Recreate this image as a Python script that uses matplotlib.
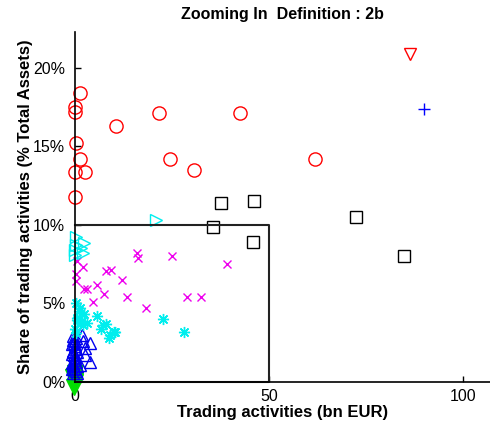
import matplotlib.pyplot as plt

plt.rcParams['font.family'] = ['Liberation Sans', 'DejaVu Sans']

# trading activities (bn EUR) and share of total assets (%) per group
red_circ_x = [1.4, 0, 0, 21.6, 42.6, 10.5, 0.3, 1.4, 24.6, 30.8, 0, 2.6, 0, 61.8]
red_circ_y = [18.4, 17.5, 17.2, 17.1, 17.1, 16.3, 15.2, 14.2, 14.2, 13.5, 13.4, 13.4, 11.8, 14.2]

red_tri_x = [86.3]
red_tri_y = [20.9]

blue_plus_x = [90.0]
blue_plus_y = [17.4]

black_sq_x = [37.7, 46.2, 35.7, 45.8, 72.5, 84.9]
black_sq_y = [11.4, 11.5, 9.85, 8.9, 10.5, 8.0]

cyan_tri_x = [20.8, 0.2, 2.3, 1.5, 0.1, 0.1, 2.0, 0.3]
cyan_tri_y = [10.3, 9.2, 8.85, 8.5, 8.4, 8.1, 8.2, 8.7]

mag_x_x = [16.1, 16.3, 25.0, 39.1, 7.9, 9.2, 12.2, 5.6, 7.5, 13.5, 2.4, 3.2,
           4.7, 18.2, 28.9, 32.6, 2.0, 0.2, 0.2, 0.6]
mag_x_y = [8.2, 7.9, 8.0, 7.5, 7.07, 7.13, 6.5, 6.2, 5.6, 5.4, 5.9, 5.9,
           5.1, 4.7, 5.4, 5.4, 7.3, 6.9, 6.4, 7.7]

cyan_ast_x = [22.7, 28.0, 5.6, 7.9, 6.7, 10.1, 8.8, 0.2, 1.3, 2.3, 0.4, 3.1,
              0.1, 1.3, 2.1, 7.1, 9.1, 10.4, 1.0, 0.5, 1.8, 0.3]
cyan_ast_y = [4.0, 3.2, 4.2, 3.7, 3.4, 3.2, 2.8, 5.0, 4.7, 4.3, 3.95, 3.75,
              3.4, 3.75, 3.6, 3.6, 3.0, 3.2, 4.5, 4.1, 3.9, 3.1]

blue_tri_x = [1.7, 2.1, 3.8, 2.6, 3.8, 2.6, 1.3, -0.6, -0.4, -0.2, 0.0, 0.2,
              -0.5, -0.3, 0.1, 0.3, -0.6, -0.2, 0.2, 0.4, -0.4, 0.0, -0.5,
              0.3, -0.1, 0.5, -0.6, 0.0, 0.6, -0.3, -0.8, -0.7, -0.8, -0.7]
blue_tri_y = [3.0, 2.6, 2.45, 2.15, 1.3, 1.7, 1.1, 2.9, 2.7, 2.5, 2.3, 2.1,
              1.9, 1.7, 1.5, 1.3, 1.1, 0.9, 0.7, 0.6, 2.0, 1.6, 1.2,
              2.8, 0.8, 1.9, 0.6, 2.6, 1.0, 1.4, 2.4, 1.8, 1.2, 0.8]

green_x = [-0.3, 0.0, 0.1, -0.2, 0.0, -0.1, -0.4]
green_y = [-0.3, 0.0, 0.2, 0.4, 0.6, 0.1, 0.3]

fig = plt.figure(figsize=(4.9, 4.36), dpi=100)
ax = fig.add_axes([0.153, 0.124, 0.847, 0.803])

kw = dict(linestyle='none', markerfacecolor='none', markeredgewidth=1.0, clip_on=False)

ax.plot(green_x, green_y, 'v', color='#00dd00', markerfacecolor='#00dd00',
        markersize=11, linestyle='none', clip_on=False)
ax.plot(blue_tri_x, blue_tri_y, '^', color='#0000ee', markersize=9, **kw)
ax.plot(cyan_ast_x, cyan_ast_y, marker=(8, 2, 0), color='#00eeee', markersize=8, **kw)
ax.plot(mag_x_x, mag_x_y, 'x', color='#ee00ee', markersize=5.5, **kw)
ax.plot(cyan_tri_x, cyan_tri_y, '>', color='#00eeee', markersize=9, **kw)
ax.plot(black_sq_x, black_sq_y, 's', color='black', markersize=8.5, **kw)
ax.plot(red_circ_x, red_circ_y, 'o', color='#ff0000', markersize=9.5, **kw)
ax.plot(red_tri_x, red_tri_y, 'v', color='#ff0000', markersize=9, **kw)
ax.plot(blue_plus_x, blue_plus_y, '+', color='#0000ff', markersize=9, **kw)

# zoom window
ax.plot([0, 50, 50, 0], [10, 10, 0, 0], color='#222222', linewidth=1.5, clip_on=False)

ax.set_xlim(0, 107)
ax.set_ylim(0, 22.3)
ax.set_xticks([0, 50, 100])
ax.set_yticks([0, 5, 10, 15, 20])
ax.set_yticklabels(['0%', '5%', '10%', '15%', '20%'])
ax.tick_params(direction='in', length=4, labelsize=11.5, width=1)
ax.tick_params(axis='y', pad=7)
ax.tick_params(axis='x', pad=5)
ax.spines['top'].set_visible(False)
ax.spines['right'].set_visible(False)
ax.spines['left'].set_linewidth(1.2)
ax.spines['bottom'].set_linewidth(1.2)

ax.set_title('Zooming In  Definition : 2b', fontsize=11.5, fontweight='bold', pad=9)
ax.set_xlabel('Trading activities (bn EUR)', fontsize=12, fontweight='bold', labelpad=1)
ax.set_ylabel('Share of trading activities (% Total Assets)', fontsize=12,
              fontweight='bold', labelpad=0)

fig.savefig('out.png', dpi=100)
